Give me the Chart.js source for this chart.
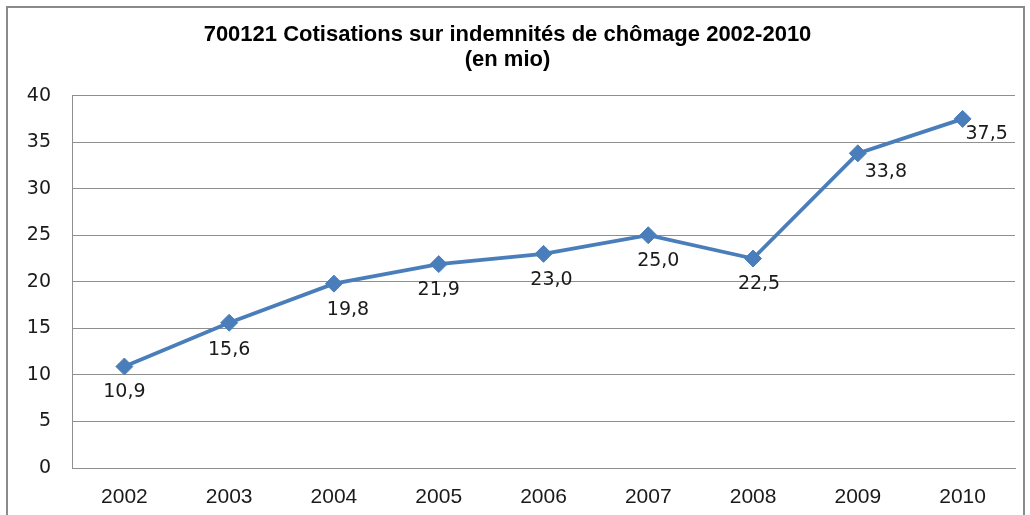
<!DOCTYPE html>
<html>
<head>
<meta charset="utf-8">
<script src="https://cdn.jsdelivr.net/npm/chart.js@4"></script>
<style>
  html, body { margin: 0; padding: 0; background: #fff; }
  #wrap { position: relative; width: 1030px; height: 515px; }
  #frame { position: absolute; left: 6px; top: 6px; width: 1019px; height: 520px; border: 2px solid #8a8a8a; box-sizing: border-box; }
  canvas { position: absolute; left: 0; top: 0; }
</style>
</head>
<body>
<div id="wrap">
  <div id="frame"></div>
  <canvas id="chart" width="1030" height="515"></canvas>
</div>
<script>
// === DATA ===
const years = ["2002", "2003", "2004", "2005", "2006", "2007", "2008", "2009", "2010"];
const cotisations = [10.9, 15.6, 19.8, 21.9, 23.0, 25.0, 22.5, 33.8, 37.5];
const titleLines = ["700121 Cotisations sur indemnités de chômage 2002-2010", "(en mio)"];

const blue = "#4a7ebb";
const gridGray = "#8f8f8f";

// data labels under each point, written with a decimal comma
const valueLabels = {
  id: "valueLabels",
  afterDatasetsDraw(chart, args, opts) {
    const ctx = chart.ctx;
    const meta = chart.getDatasetMeta(0);
    ctx.save();
    ctx.font = "19px 'DejaVu Sans'";
    ctx.fillStyle = "#1a1a1a";
    ctx.textAlign = "center";
    ctx.textBaseline = "middle";
    meta.data.forEach((pt, i) => {
      const shift = opts.shift[i] || [0, 26];
      const txt = cotisations[i].toFixed(1).replace(".", ",");
      ctx.fillText(txt, pt.x + shift[0], pt.y + shift[1]);
    });
    ctx.restore();
  },
};

new Chart(document.getElementById("chart"), {
  type: "line",
  data: {
    labels: years,
    datasets: [
      {
        data: cotisations,
        borderColor: blue,
        backgroundColor: blue,
        borderWidth: 3.8,
        pointStyle: "rectRot",
        pointRadius: 8.5,
        pointBorderWidth: 1,
        pointBorderColor: blue,
        tension: 0,
      },
    ],
  },
  options: {
    responsive: false,
    animation: false,
    layout: { padding: { left: 0, right: 15, top: 0, bottom: 0 } },
    plugins: {
      legend: { display: false },
      tooltip: { enabled: false },
      title: {
        display: true,
        text: titleLines,
        color: "#000",
        font: { family: "'Liberation Sans Narrow', 'Liberation Sans'", size: 22, weight: "bold", lineHeight: 1.15 },
        padding: { top: 22, bottom: 23 },
      },
      valueLabels: {
        shift: [[0, 26], [0, 27], [14, 26], [0, 26], [8, 26], [10, 26], [6, 26], [28, 19], [24, 15]],
      },
    },
    scales: {
      x: {
        offset: true,
        grid: { display: false, drawTicks: false },
        border: { color: gridGray, width: 1 },
        ticks: {
          color: "#1a1a1a",
          padding: 17,
          font: { family: "'Liberation Sans'", size: 21 },
        },
        afterFit(scale) { scale.height = 47; },
      },
      y: {
        min: 0,
        max: 40,
        grid: { color: gridGray, lineWidth: 1, drawTicks: false },
        border: { color: gridGray, width: 1 },
        ticks: {
          stepSize: 5,
          color: "#1a1a1a",
          padding: 21,
          font: { family: "'DejaVu Sans'", size: 19 },
        },
        afterFit(scale) { scale.width = 72; },
      },
    },
  },
  plugins: [valueLabels],
});
</script>
</body>
</html>
